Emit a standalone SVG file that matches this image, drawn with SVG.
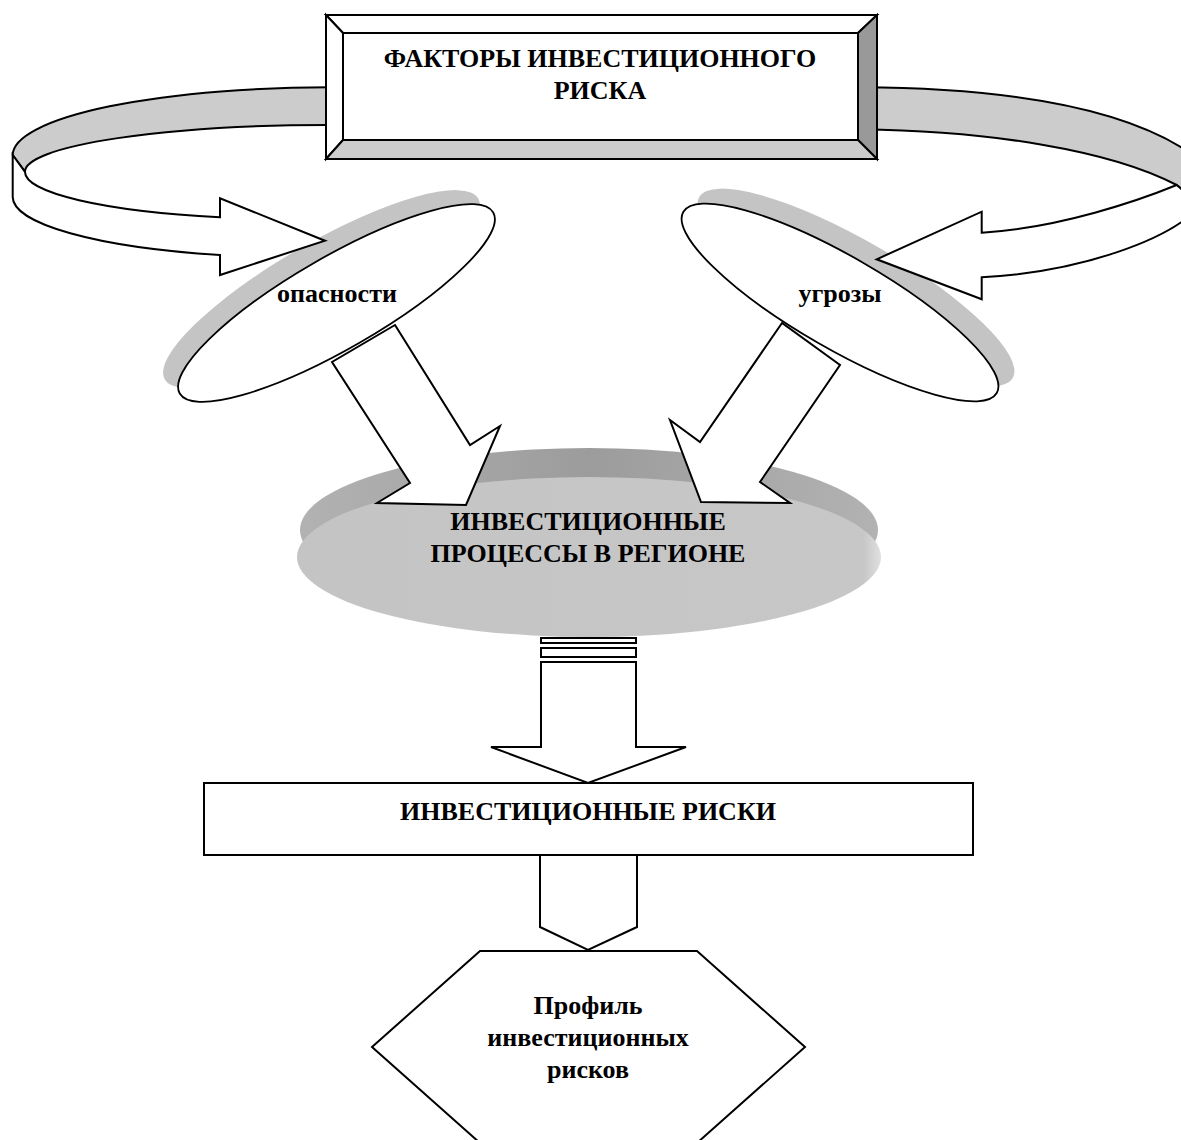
<svg xmlns="http://www.w3.org/2000/svg" width="1181" height="1140" viewBox="0 0 1181 1140">
  <defs>
    <style>
      .ln { stroke: #000; stroke-width: 2; stroke-linejoin: miter; }
      .wt { fill: #fff; }
      .band { fill: #cccccc; }
      .shadow { fill: #c4c4c4; }
      .t { font-family: "Liberation Serif", "Times New Roman", serif; font-weight: bold; font-size: 26px; fill: #000; text-anchor: middle; }
    </style>
    <linearGradient id="rim" x1="0" y1="0" x2="1" y2="0">
      <stop offset="0" stop-color="#b2b2b2"/>
      <stop offset="0.5" stop-color="#9c9c9c"/>
      <stop offset="1" stop-color="#b2b2b2"/>
    </linearGradient>
    <linearGradient id="face" x1="0" y1="0" x2="1" y2="0">
      <stop offset="0" stop-color="#c4c4c4"/>
      <stop offset="0.97" stop-color="#c7c7c7"/>
      <stop offset="1" stop-color="#e0e0e0"/>
    </linearGradient>
  </defs>

  <rect width="1181" height="1140" fill="#fff"/>

  <!-- central disc: investment processes -->
  <g id="node-processes">
    <ellipse cx="589" cy="530" rx="289" ry="82" fill="url(#rim)"/>
    <ellipse cx="589" cy="557" rx="292" ry="80" fill="url(#face)"/>
    <text class="t" x="588" y="530">ИНВЕСТИЦИОННЫЕ</text>
    <text class="t" x="588" y="562">ПРОЦЕССЫ В РЕГИОНЕ</text>
  </g>

  <g id="connectors">
    <!-- block arrows from the two ellipses into the disc -->
    <polygon class="ln wt" points="395,325 470,445 500,426 466,505 377,503 410,483 332,362"/>
    <polygon class="ln wt" points="782,323 700,442 670,420 701,502 790,503 760,482 840,365"/>
  </g>

  <!-- dangers -->
  <g id="node-dangers">
    <ellipse class="shadow" cx="321.5" cy="289" rx="181" ry="46" transform="rotate(-30 321.5 289)"/>
    <ellipse class="wt" cx="336.5" cy="303" rx="181" ry="46" transform="rotate(-30 336.5 303)" stroke="#000" stroke-width="1.8"/>
    <text class="t" x="337" y="302">опасности</text>
  </g>

  <!-- threats -->
  <g id="node-threats">
    <ellipse class="shadow" cx="856" cy="287.5" rx="181" ry="46" transform="rotate(30 856 287.5)"/>
    <ellipse class="wt" cx="840" cy="302.5" rx="181" ry="46" transform="rotate(30 840 302.5)" stroke="#000" stroke-width="1.8"/>
    <text class="t" x="840" y="302">угрозы</text>
  </g>

  <g id="connectors-top">
    <!-- left curved ribbon: back (grey) and front (white with head) -->
    <path class="ln band" d="M340,87.3 A317.3,68 0 0 0 12.7,155 L25,171.7 A305,46.7 0 0 1 340,125 Z"/>
    <path class="ln wt" d="M12.7,155 L12.7,197 A287.3,60.4 0 0 0 220,255 L220,275 L325,240.7 L220,198.3 L220,217.3 A275,47.3 0 0 1 25,172 Z"/>
    <!-- right curved ribbon -->
    <path class="ln band" d="M860,87.3 C1000,88 1130,106 1200,160 L1200,205 L1176.7,185 C1110,150 990,131 860,129.3 Z"/>
    <path class="ln wt" d="M1176.7,185 L1200,205 L1200,206 C1170,240 1080,272 981.7,277.3 L981.7,299.3 L876.7,259.3 L981.7,211.7 L981.7,232.7 C1060,228 1140,200 1176.7,185 Z"/>
  </g>

  <!-- bevelled title box -->
  <g id="node-factors">
    <polygon class="ln wt" points="326,15 877,15 858,33 343,33"/>
    <polygon class="ln wt" points="326,15 343,33 343,140 326,159"/>
    <polygon class="ln" fill="#999999" points="877,15 877,159 858,140 858,33"/>
    <polygon class="ln band" points="326,159 343,140 858,140 877,159"/>
    <rect class="ln wt" x="343" y="33" width="515" height="107"/>
    <text class="t" x="600" y="67">ФАКТОРЫ ИНВЕСТИЦИОННОГО</text>
    <text class="t" x="600" y="99">РИСКА</text>
  </g>

  <g id="connectors-bottom">
    <!-- striped arrow down from the disc -->
    <rect class="ln wt" x="541" y="638" width="95" height="5"/>
    <rect class="ln wt" x="541" y="648" width="95" height="9"/>
    <polygon class="ln wt" points="541,662 636,662 636,747 686,747 588,783 491,747 541,747"/>
    <!-- pentagon arrow to the profile -->
    <polygon class="ln wt" points="540,855 637,855 637,927 588,950 540,927"/>
  </g>

  <g id="node-risks">
    <rect class="ln wt" x="204" y="783" width="769" height="72"/>
    <text class="t" x="588" y="820">ИНВЕСТИЦИОННЫЕ РИСКИ</text>
  </g>

  <g id="node-profile">
    <polygon class="ln wt" points="480,951 697,951 805,1047 697,1143 480,1143 372,1047"/>
    <text class="t" x="588" y="1014">Профиль</text>
    <text class="t" x="588" y="1046">инвестиционных</text>
    <text class="t" x="588" y="1078">рисков</text>
  </g>
</svg>
